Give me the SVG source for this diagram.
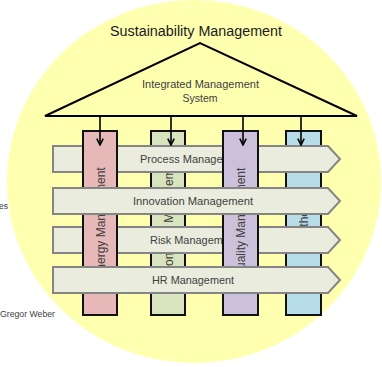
<svg xmlns="http://www.w3.org/2000/svg" width="382" height="367" viewBox="0 0 382 367">
<style>
text{font-family:"Liberation Sans",Arial,sans-serif;}
.bar{fill:#EAEDDD;stroke:#858585;stroke-width:2;}
.col{stroke:#111;stroke-width:2;}
.bt{font-size:11px;fill:#404040;text-anchor:middle;}
.ct{font-size:12px;fill:#404040;text-anchor:middle;}
.side{font-size:8.5px;fill:#404040;}
.conn{stroke:#000;stroke-width:1.6;fill:none;}
</style>
<defs>
<marker id="ah" viewBox="0 0 10 10" refX="9" refY="5" markerWidth="5" markerHeight="5" orient="auto" markerUnits="strokeWidth">
<path d="M1,1 L9,5 L1,9" fill="none" stroke="#000" stroke-width="2"/>
</marker>
</defs>
<ellipse id="circle" cx="194" cy="181.5" rx="187" ry="181.5" fill="#FFFFB0"/>
<text class="side" x="-1" y="209">es</text>
<text class="side" x="0" y="317" textLength="55" lengthAdjust="spacingAndGlyphs">Gregor Weber</text>
<g id="title"><text x="196" y="36" font-size="14" fill="#1a1a1a" text-anchor="middle" textLength="172" lengthAdjust="spacingAndGlyphs">Sustainability Management</text></g>
<g id="ims">
<path d="M45,116 L200,43 L357,116 Z" fill="none" stroke="#000" stroke-width="2" stroke-linejoin="miter"/>
<text x="200.5" y="88" font-size="11" fill="#404040" text-anchor="middle" textLength="117" lengthAdjust="spacingAndGlyphs">Integrated Management</text>
<text x="200" y="102" font-size="11" fill="#404040" text-anchor="middle" textLength="35" lengthAdjust="spacingAndGlyphs">System</text>
</g>
<g id="environment">
<rect class="col" x="151" y="131" width="34" height="184" fill="#D7E4BD"/>
<text class="ct" transform="translate(172.5,223) rotate(-90)">Environment Management</text>
</g>
<g id="other">
<rect class="col" x="286" y="131" width="35" height="184" fill="#B7DEE8"/>
<text class="ct" transform="translate(308,221) rotate(-90)">Other</text>
</g>
<g id="process">
<path class="bar" d="M53,146 H328 L340,159 L328,172 H53 Z"/>
<text class="bt" x="193.5" y="163" textLength="107" lengthAdjust="spacingAndGlyphs">Process Management</text>
</g>
<g id="risk">
<path class="bar" d="M53,227 H328 L340,240 L328,253 H53 Z"/>
<text class="bt" x="194" y="244" textLength="88" lengthAdjust="spacingAndGlyphs">Risk Management</text>
</g>
<g id="energy">
<rect class="col" x="83" y="131" width="34" height="184" fill="#E6B9B8"/>
<text class="ct" transform="translate(104.5,223) rotate(-90)">Energy Management</text>
</g>
<g id="quality">
<rect class="col" x="223" y="131" width="35" height="184" fill="#CCC1DA"/>
<text class="ct" transform="translate(245,223) rotate(-90)">Quality Management</text>
</g>
<g id="innovation">
<path class="bar" d="M53,188 H328 L340,201 L328,214 H53 Z"/>
<text class="bt" x="193" y="205" textLength="120" lengthAdjust="spacingAndGlyphs">Innovation Management</text>
</g>
<g id="hr">
<path class="bar" d="M53,267 H328 L340,280 L328,293 H53 Z"/>
<text class="bt" x="193" y="284" textLength="82" lengthAdjust="spacingAndGlyphs">HR Management</text>
</g>
<g id="connectors">
<line class="conn" x1="100" y1="116" x2="100" y2="145" marker-end="url(#ah)"/>
<line class="conn" x1="171" y1="116" x2="171" y2="145" marker-end="url(#ah)"/>
<line class="conn" x1="243" y1="116" x2="243" y2="145" marker-end="url(#ah)"/>
<line class="conn" x1="301" y1="116" x2="301" y2="145" marker-end="url(#ah)"/>
</g>
</svg>
